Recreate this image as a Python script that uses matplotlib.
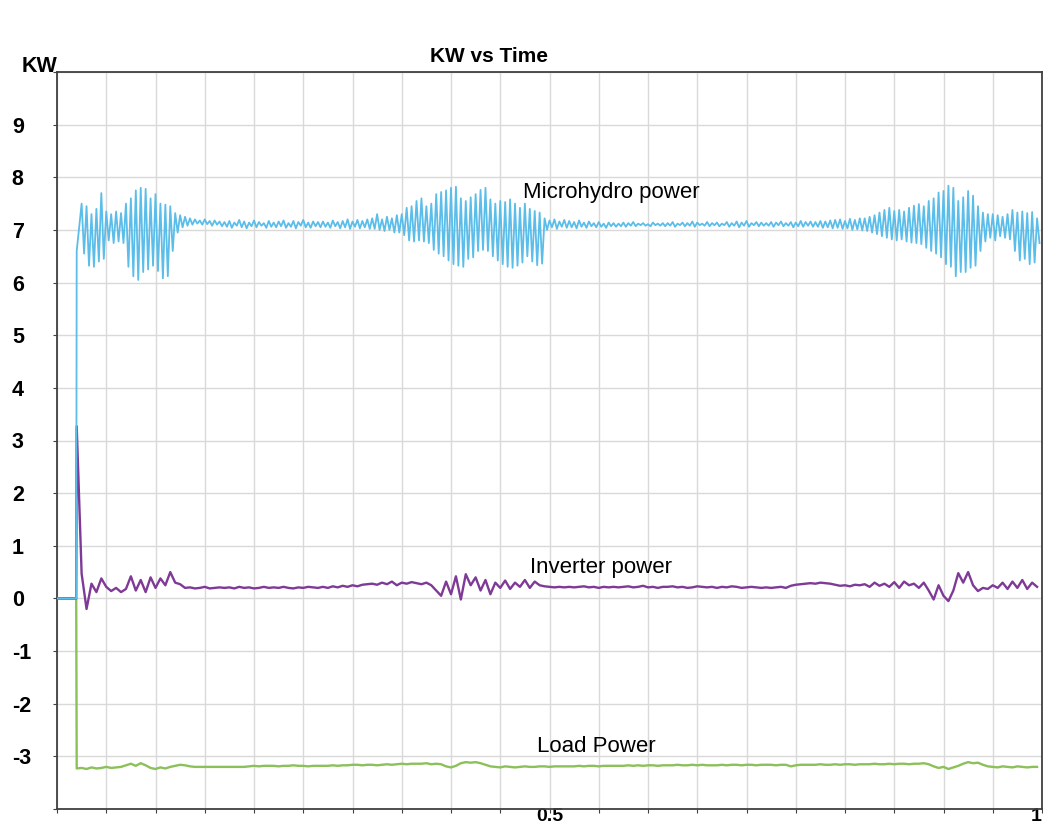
import numpy as np
import matplotlib
matplotlib.use("Agg")
import matplotlib.pyplot as plt

plt.rcParams["font.family"] = ["Liberation Sans", "DejaVu Sans"]

# time axis: flat lead-in, then samples every DT from T0 on
T_START = [0.0, 0.0195]
T0 = 0.02
DT = 0.005

# microhydro power (kW): one peak and one trough per sample step
MH_START = [0.0, 0.0]
MH_PEAKS = [
    6.6, 7.5, 7.45, 7.3, 7.4, 7.7, 7.35, 7.3, 7.35, 7.32,
    7.5, 7.6, 7.75, 7.8, 7.78, 7.6, 7.68, 7.5, 7.48, 7.45,
    7.32, 7.28, 7.25, 7.22, 7.2, 7.18, 7.2, 7.17, 7.18, 7.16,
    7.15, 7.17, 7.14, 7.19, 7.16, 7.14, 7.18, 7.15, 7.13, 7.17,
    7.14, 7.16, 7.18, 7.13, 7.17, 7.15, 7.19, 7.14, 7.16, 7.15,
    7.16, 7.14, 7.18, 7.15, 7.17, 7.2, 7.16, 7.19, 7.17, 7.2,
    7.22, 7.3, 7.2, 7.25, 7.22, 7.28, 7.3, 7.42, 7.45, 7.55,
    7.6, 7.45, 7.5, 7.68, 7.72, 7.75, 7.8, 7.82, 7.6, 7.55,
    7.62, 7.68, 7.76, 7.8, 7.58, 7.5, 7.55, 7.53, 7.58, 7.5,
    7.42, 7.5, 7.4, 7.36, 7.33, 7.22, 7.18, 7.2, 7.16, 7.19,
    7.17, 7.15, 7.18, 7.14, 7.16, 7.13, 7.15, 7.12, 7.14, 7.13,
    7.12, 7.14, 7.13, 7.15, 7.12, 7.13, 7.11, 7.14, 7.12, 7.13,
    7.13, 7.15, 7.12, 7.14, 7.13, 7.16, 7.14, 7.12, 7.15, 7.13,
    7.14, 7.12, 7.15, 7.13, 7.16, 7.14, 7.17, 7.13, 7.15, 7.14,
    7.13, 7.15, 7.14, 7.16, 7.13, 7.15, 7.14, 7.17, 7.15, 7.16,
    7.15, 7.17, 7.16, 7.18, 7.19, 7.2, 7.17, 7.21, 7.19, 7.22,
    7.22, 7.25, 7.28, 7.33, 7.38, 7.42, 7.36, 7.38, 7.35, 7.42,
    7.46, 7.49, 7.45, 7.55, 7.6, 7.71, 7.74, 7.84, 7.8, 7.55,
    7.62, 7.74, 7.65, 7.45, 7.33, 7.3, 7.3, 7.28, 7.25, 7.3,
    7.38, 7.33, 7.35, 7.32, 7.34, 7.22,
]
MH_TROUGHS = [
    7.05, 6.55, 6.32, 6.3, 6.4, 6.45, 6.8, 6.75, 6.78, 6.75,
    6.3, 6.12, 6.05, 6.2, 6.25, 6.32, 6.22, 6.08, 6.12, 6.6,
    6.95, 7.05, 7.08, 7.1, 7.12, 7.1, 7.11, 7.08, 7.1, 7.07,
    7.06, 7.04, 7.08, 7.05, 7.03, 7.07, 7.05, 7.08, 7.04, 7.06,
    7.05, 7.07, 7.04, 7.06, 7.03, 7.08, 7.05, 7.04, 7.07, 7.05,
    7.06, 7.04, 7.07, 7.03, 7.05, 7.02, 7.06, 7.03, 7.05, 7.02,
    7.02, 7.0, 6.98, 7.0, 6.95, 6.95, 6.9, 6.8, 6.78, 6.8,
    6.78, 6.75, 6.62, 6.55, 6.5, 6.42, 6.35, 6.32, 6.3, 6.45,
    6.48, 6.6, 6.62, 6.6, 6.5, 6.42, 6.35, 6.3, 6.28, 6.32,
    6.38, 6.5, 6.4, 6.33, 6.36, 7.0, 7.05, 7.02, 7.06, 7.04,
    7.05, 7.03, 7.06, 7.04, 7.07, 7.05, 7.06, 7.04, 7.07, 7.06,
    7.07, 7.06, 7.08, 7.07, 7.09, 7.08, 7.07, 7.09, 7.08, 7.07,
    7.08, 7.06, 7.09, 7.07, 7.08, 7.06, 7.09, 7.08, 7.07, 7.09,
    7.07, 7.09, 7.06, 7.08, 7.05, 7.08, 7.06, 7.09, 7.07, 7.08,
    7.08, 7.06, 7.09, 7.07, 7.08, 7.05, 7.07, 7.06, 7.08, 7.06,
    7.06, 7.04, 7.05, 7.03, 7.04, 7.02, 7.03, 7.0, 7.01, 6.99,
    6.98, 6.95, 6.92, 6.88, 6.85, 6.82, 6.8, 6.82, 6.78, 6.76,
    6.75, 6.73, 6.66, 6.6, 6.55, 6.48, 6.35, 6.3, 6.12, 6.2,
    6.2, 6.28, 6.32, 6.6, 6.78, 6.85, 6.8, 6.88, 6.85, 6.82,
    6.6, 6.42, 6.45, 6.35, 6.38, 6.75,
]

# inverter power (kW)
INV_START = [0.0, 0.0]
INV = [
    3.27, 0.47, -0.2, 0.28, 0.12, 0.38, 0.22, 0.14, 0.2, 0.12,
    0.18, 0.42, 0.15, 0.35, 0.12, 0.4, 0.2, 0.38, 0.25, 0.5,
    0.3, 0.27, 0.2, 0.21, 0.19, 0.2, 0.22, 0.19, 0.2, 0.21,
    0.2, 0.21, 0.19, 0.22, 0.2, 0.21, 0.19, 0.2, 0.22, 0.2,
    0.21, 0.2, 0.22, 0.2, 0.19, 0.21, 0.2, 0.22, 0.21, 0.2,
    0.22, 0.2, 0.23, 0.21, 0.24, 0.22, 0.25, 0.23, 0.26, 0.27,
    0.28, 0.26, 0.3, 0.27, 0.32, 0.25, 0.3, 0.28, 0.31, 0.29,
    0.27, 0.3, 0.25, 0.15, 0.05, 0.32, 0.08, 0.42, -0.02, 0.46,
    0.25, 0.4, 0.15, 0.35, 0.08, 0.3, 0.2, 0.34, 0.18, 0.3,
    0.22, 0.35, 0.2, 0.32, 0.25, 0.23, 0.22, 0.21, 0.22, 0.21,
    0.22, 0.21, 0.22, 0.23, 0.21, 0.22, 0.2, 0.22, 0.21, 0.22,
    0.21, 0.22, 0.23, 0.21, 0.22, 0.24, 0.21, 0.22, 0.2, 0.22,
    0.22, 0.23, 0.21, 0.22, 0.2, 0.21, 0.23, 0.22, 0.21, 0.22,
    0.2, 0.22, 0.21, 0.23, 0.22, 0.2, 0.21, 0.22, 0.21, 0.2,
    0.21, 0.2, 0.21, 0.22, 0.2, 0.24, 0.26, 0.27, 0.28, 0.29,
    0.28, 0.3, 0.29, 0.28, 0.26, 0.24, 0.25, 0.23, 0.26, 0.25,
    0.27, 0.22, 0.3, 0.24, 0.28, 0.22, 0.31, 0.2, 0.32, 0.25,
    0.28, 0.2, 0.3, 0.15, -0.02, 0.25, 0.05, -0.05, 0.15, 0.48,
    0.3, 0.5, 0.25, 0.14, 0.2, 0.18, 0.25, 0.2, 0.3, 0.18,
    0.32, 0.2, 0.35, 0.18, 0.3, 0.22,
]

# load power (kW)
LOAD_START = [0.0, 0.0]
LOAD = [
    -3.23, -3.22, -3.24, -3.21, -3.23, -3.22, -3.2, -3.22, -3.21, -3.2,
    -3.17, -3.14, -3.18, -3.13, -3.17, -3.22, -3.24, -3.21, -3.23, -3.2,
    -3.18, -3.16, -3.17, -3.19, -3.2, -3.2, -3.2, -3.2, -3.2, -3.2,
    -3.2, -3.2, -3.2, -3.2, -3.2, -3.19, -3.18, -3.19, -3.18, -3.18,
    -3.18, -3.19, -3.18, -3.18, -3.17, -3.18, -3.18, -3.19, -3.18, -3.18,
    -3.18, -3.18, -3.17, -3.18, -3.17, -3.17, -3.16, -3.16, -3.17, -3.16,
    -3.16, -3.17, -3.16, -3.15, -3.16, -3.15, -3.14, -3.15, -3.14, -3.14,
    -3.14, -3.13, -3.15, -3.14, -3.15, -3.19, -3.21, -3.18, -3.13, -3.11,
    -3.12, -3.11, -3.13, -3.16, -3.19, -3.2, -3.21, -3.19, -3.2, -3.21,
    -3.2, -3.19, -3.2, -3.2, -3.19, -3.19, -3.2, -3.19, -3.19, -3.19,
    -3.19, -3.19, -3.18, -3.19, -3.18, -3.18, -3.19, -3.18, -3.18, -3.18,
    -3.18, -3.18, -3.17, -3.18, -3.17, -3.18, -3.17, -3.17, -3.18, -3.17,
    -3.17, -3.17, -3.16, -3.17, -3.17, -3.16, -3.17, -3.16, -3.17, -3.17,
    -3.17, -3.16, -3.17, -3.16, -3.16, -3.17, -3.16, -3.16, -3.17, -3.16,
    -3.16, -3.16, -3.17, -3.16, -3.16, -3.19, -3.17, -3.16, -3.16, -3.16,
    -3.16, -3.15, -3.16, -3.16, -3.15, -3.16, -3.15, -3.15, -3.16, -3.15,
    -3.15, -3.15, -3.14, -3.15, -3.15, -3.14, -3.15, -3.14, -3.14, -3.15,
    -3.14, -3.14, -3.13, -3.15, -3.19, -3.22, -3.2, -3.24, -3.21, -3.18,
    -3.14, -3.11, -3.13, -3.12, -3.16, -3.19, -3.2, -3.21, -3.19, -3.2,
    -3.21, -3.19, -3.2, -3.21, -3.2, -3.2,
]

Y_TICKS = [-4, -3, -2, -1, 0, 1, 2, 3, 4, 5, 6, 7, 8, 9, 10]
Y_LABELS = ["", "-3", "-2", "-1", "0", "1", "2", "3", "4", "5", "6", "7", "8", "9", ""]
X_LABELED = {0.5: "0.5", 1.0: "1"}

LABELS = [
    ("Microhydro power", 0.4726, 7.6),
    ("Inverter power", 0.4807, 0.49),
    ("Load Power", 0.4878, -2.91),
]

C_MH = "#5BBDE9"
C_INV = "#7E3A96"
C_LOAD = "#8CC05A"


def sample_times(n):
    return T0 + DT * np.arange(n)


def main():
    fig = plt.figure(figsize=(10.43, 8.31), dpi=100)
    ax = fig.add_axes([57 / 1043, 22 / 831, 985 / 1043, 737 / 831])

    # load
    t = np.concatenate([T_START, sample_times(len(LOAD))])
    ax.plot(t, np.concatenate([LOAD_START, LOAD]), color=C_LOAD, lw=1.7, zorder=3)

    # inverter
    t = np.concatenate([T_START, sample_times(len(INV))])
    ax.plot(t, np.concatenate([INV_START, INV]), color=C_INV, lw=1.7, zorder=4)

    # microhydro: peaks and troughs interleaved
    tp = sample_times(len(MH_PEAKS))
    tt = tp + DT / 2
    t_mh = np.empty(2 * len(tp))
    y_mh = np.empty(2 * len(tp))
    t_mh[0::2], t_mh[1::2] = tp, tt
    y_mh[0::2], y_mh[1::2] = MH_PEAKS, MH_TROUGHS
    ax.plot(np.concatenate([T_START, t_mh]), np.concatenate([MH_START, y_mh]),
            color=C_MH, lw=1.3, zorder=5)

    for text, x, y in LABELS:
        ax.text(x, y, text, fontsize=16, ha="left", va="baseline", zorder=6)

    ax.set_xlim(0, 1)
    ax.set_ylim(-4, 10)

    xt = np.round(np.arange(0, 1.0001, 0.05), 2)
    ax.set_xticks(xt)
    ax.set_xticklabels([X_LABELED.get(v, "") for v in xt],
                       fontsize=14, fontweight="bold")
    ax.get_xticklabels()[-1].set_horizontalalignment("right")
    ax.set_yticks(Y_TICKS)
    ax.set_yticklabels(Y_LABELS, fontsize=15.5, fontweight="bold")
    for lbl in ax.get_yticklabels():
        lbl.set_horizontalalignment("left")

    ax.tick_params(axis="y", length=3, pad=29.5, color="#404040")
    ax.tick_params(axis="x", length=3, pad=-3.7, color="#404040")
    ax.grid(True, color="#D9D9D9", lw=1.0)
    ax.set_axisbelow(True)
    for s in ax.spines.values():
        s.set_color("#404040")
        s.set_linewidth(1.3)

    fig.text(22 / 1043, 1 - 66.5 / 831, "KW", fontsize=15.5, fontweight="bold",
             ha="left", va="center")
    fig.text(489 / 1043, 1 - 57 / 831, "KW vs Time", fontsize=15,
             fontweight="bold", ha="center", va="center")

    fig.savefig("out.png", dpi=100)


if __name__ == "__main__":
    main()
